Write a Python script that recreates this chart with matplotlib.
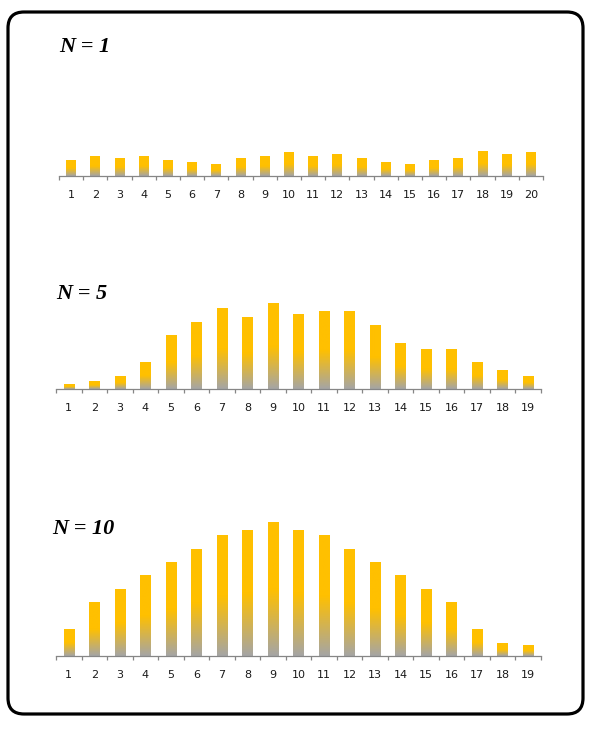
import numpy as np
import matplotlib
matplotlib.use("Agg")
import matplotlib.pyplot as plt
from matplotlib.colors import LinearSegmentedColormap
from matplotlib.patches import FancyBboxPatch

# ---- data ----
cats_n1 = list(range(1, 21))
vals_n1 = [8, 10, 9, 10, 8, 7, 6, 9, 10, 12, 10, 11, 9, 7, 6, 8, 9, 12.5, 11, 12]

cats_n5 = list(range(1, 20))
vals_n5 = [5, 8, 13, 27, 54, 67, 81, 72, 86, 75, 78, 78, 64, 46, 40, 40, 27, 19, 13]

cats_n10 = list(range(1, 20))
vals_n10 = [27, 54, 67, 81, 94, 107, 121, 126, 134, 126, 121, 107, 94, 81, 67, 54, 27, 13, 11]

titles = ["N = 1", "N = 5", "N = 10"]

W, H = 600, 730
fig = plt.figure(figsize=(W / 100, H / 100), dpi=100)

# border
bg = fig.add_axes([0, 0, 1, 1])
bg.set_xlim(0, W)
bg.set_ylim(0, H)
bg.axis("off")
bg.add_patch(FancyBboxPatch((8, H - 714), 575, 702,
                            boxstyle="round,pad=0,rounding_size=16",
                            fc="white", ec="black", lw=2.3))

cmap = LinearSegmentedColormap.from_list(
    "g", [(0.0, "#A5A5A5"), (0.5, "#FFC000"), (1.0, "#FFC000")])
grad = np.linspace(0, 1, 256).reshape(-1, 1)

# panel layout in pixels: (left, right, bottom_y, top_y, ymax, title_x, title_y)
panels = [
    (cats_n1, vals_n1, 59, 543, 176, 60, 58, 59, 47),
    (cats_n5, vals_n5, 56, 541, 389, 289, 100, 56, 294),
    (cats_n10, vals_n10, 56, 541, 656, 506, 150, 52, 529),
]

for (cats, vals, xl, xr, yb, yt, ymax, tx, ty), title in zip(panels, titles):
    ax = fig.add_axes([xl / W, 1 - yb / H, (xr - xl) / W, (yb - yt) / H])
    ax.patch.set_alpha(0)
    n = len(cats)
    bars = ax.bar(cats, vals, width=0.41, color="none", edgecolor="none")
    for b in bars:
        x0 = b.get_x()
        ax.imshow(grad, cmap=cmap, origin="lower", aspect="auto",
                  extent=[x0, x0 + b.get_width(), 0, b.get_height()],
                  interpolation="bilinear", zorder=2)
    ax.set_xlim(0.5, n + 0.5)
    ax.set_ylim(0, ymax)
    for s in ["top", "right", "left"]:
        ax.spines[s].set_visible(False)
    ax.spines["bottom"].set_color("#868686")
    ax.spines["bottom"].set_linewidth(0.9)
    ax.set_yticks([])
    ax.set_xticks(cats)
    ax.set_xticklabels([str(c) for c in cats], fontsize=8, color="#1a1a1a",
                       family="DejaVu Sans")
    ax.tick_params(axis="x", which="major", length=0, pad=10)
    ax.set_xticks(np.arange(0.5, n + 1, 1.0), minor=True)
    ax.tick_params(axis="x", which="minor", length=3, width=0.9, color="#868686")
    fig.text(tx / W, 1 - ty / H, title, fontsize=16, fontweight="bold",
             fontstyle="italic", family="Liberation Serif", ha="left",
             va="center", color="black")

fig.savefig("out.png", dpi=100)
